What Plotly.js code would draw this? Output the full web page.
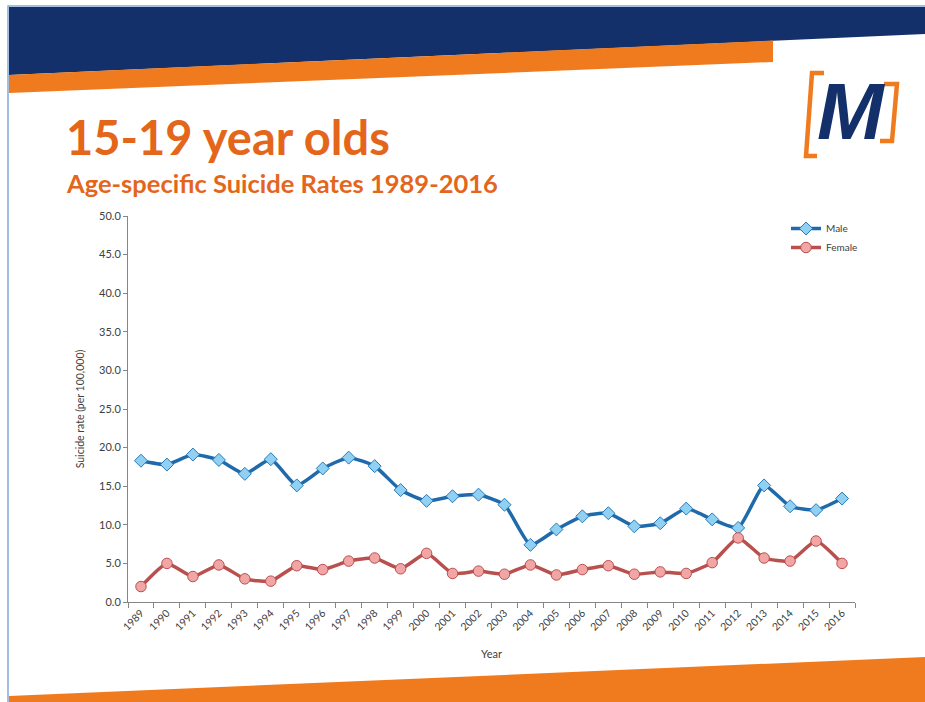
<!DOCTYPE html>
<html>
<head>
<meta charset="utf-8">
<script src="https://cdn.plot.ly/plotly-3.0.1.min.js"></script>
<style>
html,body{margin:0;padding:0;background:#fff;}
#chart{width:925px;height:702px;}
</style>
</head>
<body>
<div id="chart"></div>
<script>
// ---- data ----
const years = ["1989","1990","1991","1992","1993","1994","1995","1996","1997","1998","1999","2000","2001","2002","2003","2004","2005","2006","2007","2008","2009","2010","2011","2012","2013","2014","2015","2016"];
const maleRates = [18.3,17.8,19.1,18.4,16.6,18.5,15.1,17.3,18.7,17.6,14.5,13.1,13.7,13.9,12.6,7.4,9.4,11.1,11.5,9.8,10.2,12.1,10.7,9.6,15.1,12.4,11.9,13.4];
const femaleRates = [2.0,5.0,3.3,4.8,3.0,2.7,4.7,4.2,5.3,5.7,4.3,6.3,3.7,4.0,3.6,4.8,3.5,4.2,4.7,3.6,3.9,3.7,5.1,8.3,5.7,5.3,7.9,5.0];
const seriesNames = ["Male","Female"];
const yTickVals = [0,5,10,15,20,25,30,35,40,45,50];

// ---- geometry helpers (page pixels -> paper coords) ----
const PL = 128, PR = 855, PT = 216, PB = 602;
const px = x => (x - PL) / (PR - PL);
const py = y => (PB - y) / (PB - PT);
const pathFrom = pts => pts.map((p, i) => (i ? 'L' : 'M') + px(p[0]).toFixed(5) + ',' + py(p[1]).toFixed(5)).join(' ') + ' Z';
const openPath = pts => pts.map((p, i) => (i ? 'L' : 'M') + px(p[0]).toFixed(5) + ',' + py(p[1]).toFixed(5)).join(' ');

const NAVY = '#13306b';
const ORANGE = '#f07b1f';
const TITLE_OR = '#e4661b';

const traces = [
  {
    x: years, y: maleRates, name: seriesNames[0], type: 'scatter', mode: 'lines+markers',
    line: {color: '#1f6aab', width: 3.5, shape: 'spline', smoothing: 0.5},
    marker: {symbol: 'diamond', size: 10, color: '#8fd0f3', line: {color: '#2a79b8', width: 1}}
  },
  {
    x: years, y: femaleRates, name: seriesNames[1], type: 'scatter', mode: 'lines+markers',
    line: {color: '#b9504e', width: 3.5, shape: 'spline', smoothing: 0.5},
    marker: {symbol: 'circle', size: 10.5, color: '#f1a6a5', line: {color: '#b9504e', width: 1}}
  }
];

const shapes = [
  // navy band
  {type: 'path', xref: 'paper', yref: 'paper', layer: 'above', line: {width: 0}, fillcolor: NAVY,
   path: pathFrom([[9, 7], [925, 7], [925, 34], [9, 75]])},
  // orange band top
  {type: 'path', xref: 'paper', yref: 'paper', layer: 'above', line: {width: 0}, fillcolor: ORANGE,
   path: pathFrom([[9, 75], [773, 40.5], [773, 62], [9, 93]])},
  // bottom orange band
  {type: 'path', xref: 'paper', yref: 'paper', layer: 'above', line: {width: 0}, fillcolor: ORANGE,
   path: pathFrom([[9, 696], [925, 657], [925, 702], [9, 702]])},
  // light blue frame
  {type: 'path', xref: 'paper', yref: 'paper', layer: 'above', line: {width: 1.5, color: '#86a9d8'},
   path: openPath([[8, 702], [8, 6], [925, 6]])},
  // logo brackets
  {type: 'path', xref: 'paper', yref: 'paper', layer: 'above', line: {width: 4.5, color: ORANGE},
   path: openPath([[824, 73], [812, 73], [806, 156], [817, 156]])},
  {type: 'path', xref: 'paper', yref: 'paper', layer: 'above', line: {width: 4.5, color: ORANGE},
   path: openPath([[884, 84], [897, 84], [892, 141], [880, 141]])}
];

const annotations = [
  {text: '<b>15-19 year olds</b>', xref: 'paper', yref: 'paper', x: px(64), y: py(137), xanchor: 'left', yanchor: 'middle',
   showarrow: false, font: {family: 'Lato, "Open Sans", sans-serif', size: 47, color: TITLE_OR}},
  {text: '<b>Age-specific Suicide Rates 1989-2016</b>', xref: 'paper', yref: 'paper', x: px(64), y: py(183), xanchor: 'left', yanchor: 'middle',
   showarrow: false, font: {family: 'Lato, "Open Sans", sans-serif', size: 25.5, color: TITLE_OR}},
  {text: '<b><i>M</i></b>', xref: 'paper', yref: 'paper', x: px(851), y: py(112), xanchor: 'center', yanchor: 'middle',
   showarrow: false, font: {family: '"Liberation Sans", Arial, sans-serif', size: 80, color: NAVY}}
];

const layout = {
  width: 925, height: 702,
  margin: {l: PL, r: 925 - PR, t: PT, b: 702 - PB, pad: 0},
  paper_bgcolor: '#ffffff', plot_bgcolor: '#ffffff',
  font: {family: 'Lato, "Open Sans", sans-serif', size: 10, color: '#404040'},
  showlegend: true,
  legend: {x: px(786), y: py(214), xanchor: 'left', yanchor: 'top', bgcolor: 'rgba(0,0,0,0)',
           font: {size: 10, color: '#404040'}, tracegroupgap: 0, itemwidth: 30},
  xaxis: {
    type: 'category', range: [-0.5, years.length - 0.5], tickson: 'boundaries',
    ticks: 'outside', ticklen: 5, tickcolor: '#868686', showline: true, linecolor: '#868686', linewidth: 1,
    showgrid: false, zeroline: false, tickangle: -45, tickfont: {size: 10.5, color: '#404040'},
    title: {text: 'Year', font: {size: 11, color: '#404040'}, standoff: 18}
  },
  yaxis: {
    range: [0, 50], tickvals: yTickVals, tickformat: '.1f',
    ticks: 'outside', ticklen: 4, tickcolor: '#868686', showline: true, linecolor: '#868686', linewidth: 1,
    showgrid: false, zeroline: false, tickfont: {size: 11, color: '#404040'},
    title: {text: 'Suicide rate (per 100,000)', font: {size: 10.5, color: '#404040'}, standoff: 12}
  },
  shapes: shapes,
  annotations: annotations
};

Plotly.newPlot('chart', traces, layout, {displayModeBar: false, staticPlot: true});
</script>
</body>
</html>
